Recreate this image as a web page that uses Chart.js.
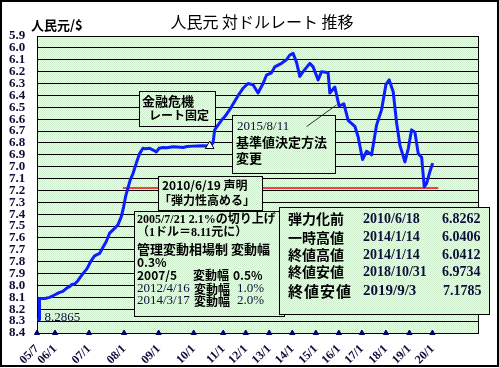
<!DOCTYPE html>
<html>
<head>
<meta charset="utf-8">
<script src="https://cdn.jsdelivr.net/npm/chart.js@4.4.1/dist/chart.umd.min.js"></script>
<style>
  html, body { margin: 0; padding: 0; background: #fff; }
  #wrap { width: 499px; height: 368px; }
</style>
</head>
<body>
<div id="wrap"><canvas id="rateChart" width="499" height="368"></canvas></div>
<script>
// x axis labels, placed by series sample number (category axis of the original)
const xTickLabels = ["05/7", "06/1", "07/1", "08/1", "09/1", "10/1", "11/1", "12/1",
    "13/1", "14/1", "15/1", "16/1", "17/1", "18/1", "19/1", "20/1"];
const xTickPos = [0, 18, 52, 87, 121.5, 156.5, 186, 208.5, 232, 255, 278.5, 301.5, 324.5, 348.5, 372, 395];
const xMax = 440.5;

const yTickVals = [5.9, 6.0, 6.1, 6.2, 6.3, 6.4, 6.5, 6.6, 6.7, 6.8, 6.9, 7.0, 7.1,
    7.2, 7.3, 7.4, 7.5, 7.6, 7.7, 7.8, 7.9, 8.0, 8.1, 8.2, 8.3, 8.4];

// CNY per USD
const rateIdx = [0, 2, 2.5, 8, 12.5, 17.5, 22, 25.8, 30, 32.5, 35, 37.5, 40.8, 45.8, 49.8, 54.2,
    57.5, 62.5, 65.8, 69.2, 72.5, 77.5, 80.8, 84.2, 86.5, 88.5, 90.8, 93.2, 95.8, 99.2, 102.5,
    105.8, 108, 112.5, 116, 119.2, 122, 125.8, 130, 135.8, 140, 145.8, 150, 155.8, 160, 165.8,
    172.5, 175.8, 177.5, 180.8, 184.2, 187.5, 192.5, 197.5, 202.5, 205.8, 210.8, 215.8, 220.8,
    225.8, 229.2, 234.2, 237.5, 244.2, 249.2, 252.5, 255.8, 259.2, 262.5, 265.8, 272.5, 275.8,
    280.8, 284.2, 290.8, 292.5, 297.5, 301.8, 306.5, 310.8, 317.5, 320.8, 325.2, 329.2, 334.2,
    339.2, 344.2, 348.5, 351.8, 355.8, 359.2, 362.5, 367.5, 370.8, 374.2, 377.5, 380.8, 384.2,
    386.8, 389.2, 392.5, 395.2];
const rateVal = [8.2865, 8.2865, 8.11, 8.11, 8.10, 8.08, 8.06, 8.05, 8.02, 8.01, 7.99, 7.99, 7.96,
    7.90, 7.86, 7.79, 7.75, 7.73, 7.68, 7.63, 7.56, 7.52, 7.49, 7.42, 7.34, 7.25, 7.18, 7.11,
    7.06, 6.97, 6.89, 6.845, 6.85, 6.845, 6.86, 6.875, 6.845, 6.838, 6.84, 6.833, 6.835, 6.838,
    6.83, 6.827, 6.825, 6.824, 6.826, 6.80, 6.69, 6.65, 6.61, 6.58, 6.52, 6.45, 6.38, 6.34,
    6.30, 6.31, 6.38, 6.30, 6.23, 6.21, 6.16, 6.13, 6.10, 6.06, 6.046, 6.12, 6.24, 6.20, 6.13,
    6.16, 6.27, 6.20, 6.21, 6.38, 6.33, 6.49, 6.47, 6.61, 6.66, 6.75, 6.94, 6.87, 6.90, 6.65,
    6.52, 6.31, 6.27, 6.37, 6.63, 6.82, 6.96, 6.85, 6.69, 6.71, 6.89, 6.92, 7.17, 7.14, 7.04, 6.97];

// 2010/6/18 before the flexibility statement
const flexIdx = [172.5];
const flexVal = [6.8262];

// red reference line
const redIdx = [85.8, 400.8];
const redVal = [7.18, 7.18];

// leader line of the 2015/8/11 note
const noteIdx = [269.2, 299.2];
const noteVal = [6.663, 6.48];

const GOTHIC = "'Noto Sans CJK JP', sans-serif";
const SERIF = "'Liberation Serif', 'Noto Sans CJK JP', serif";
const NAVY = "#0d0d3a";

function toXY(xs, ys) {
    return xs.map((x, i) => ({ x: x, y: ys[i] }));
}

function makePattern(ctx) {
    const c = document.createElement("canvas");
    c.width = 2; c.height = 2;
    const g = c.getContext("2d");
    g.fillStyle = "#f1fbee";
    g.fillRect(0, 0, 2, 2);
    g.fillStyle = "#cdeccb";
    g.fillRect(0, 0, 1, 1);
    g.fillRect(1, 1, 1, 1);
    return ctx.createPattern(c, "repeat");
}

const canvas = document.getElementById("rateChart");
const pattern = makePattern(canvas.getContext("2d"));

function txt(ctx, s, x, y, font, color) {
    ctx.font = font;
    ctx.fillStyle = color || "#000";
    ctx.textAlign = "left";
    ctx.textBaseline = "middle";
    ctx.fillText(s, x, y);
}

function box(ctx, x, y, w, h) {
    ctx.fillStyle = pattern;
    ctx.fillRect(x, y, w, h);
    ctx.strokeStyle = "#000";
    ctx.lineWidth = 1;
    ctx.strokeRect(x + 0.5, y + 0.5, w, h);
}

const decor = {
    id: "decor",
    beforeDraw(chart) {
        const { ctx, chartArea: a } = chart;
        ctx.save();
        ctx.fillStyle = "#fff";
        ctx.fillRect(0, 0, chart.width, chart.height);
        ctx.fillStyle = pattern;
        ctx.fillRect(a.left, a.top, a.right - a.left, a.bottom - a.top);
        ctx.restore();
    },
    beforeDatasetsDraw(chart) {
        const { ctx, chartArea: a } = chart;
        ctx.save();
        ctx.strokeStyle = "#000";
        ctx.lineWidth = 1;
        ctx.strokeRect(Math.round(a.left) + 0.5, Math.round(a.top) + 0.5,
            Math.round(a.right - a.left), Math.round(a.bottom - a.top));
        ctx.restore();
    },
    afterDatasetsDraw(chart) {
        const ctx = chart.ctx;
        const sx = chart.scales.x, sy = chart.scales.y;
        ctx.save();

        // starting rate
        txt(ctx, rateVal[0].toFixed(4), sx.getPixelForValue(rateIdx[2]) + 5,
            sy.getPixelForValue(rateVal[0]) - 2, "13px " + SERIF, NAVY);

        // 金融危機
        box(ctx, 139, 91, 76, 35);
        txt(ctx, "金融危機", 142, 101, "bold 13px " + GOTHIC);
        txt(ctx, "レート固定", 149, 115, "bold 12px " + GOTHIC);

        // 2015/8/11
        box(ctx, 232, 115, 103, 58);
        txt(ctx, "2015/8/11", 237, 127, "13px " + SERIF, NAVY);
        txt(ctx, "基準値決定方法", 236, 142, "bold 13px " + GOTHIC);
        txt(ctx, "変更", 236, 158, "bold 13px " + GOTHIC);

        // 2010/6/19
        box(ctx, 158, 176, 104, 34);
        txt(ctx, "2010/6/19 声明", 162, 185, "bold 12px " + GOTHIC);
        txt(ctx, "「弾力性高める」", 159, 200, "bold 12px " + GOTHIC);

        // 変動幅
        box(ctx, 134, 211, 150, 105);
        txt(ctx, "2005/7/21 2.1%の切り上げ", 137, 220, "bold 12px " + SERIF);
        txt(ctx, "（1ドル＝8.11元に）", 137, 233, "bold 12px " + SERIF);
        txt(ctx, "管理変動相場制 変動幅", 137, 249, "bold 13px " + GOTHIC);
        txt(ctx, "0.3%", 137, 262, "bold 12px " + GOTHIC);
        txt(ctx, "2007/5", 137, 275, "bold 12px " + GOTHIC);
        txt(ctx, "変動幅", 193, 275, "bold 12px " + GOTHIC);
        txt(ctx, "0.5%", 233, 275, "bold 12px " + GOTHIC);
        txt(ctx, "2012/4/16", 137, 289, "13px " + SERIF, NAVY);
        txt(ctx, "変動幅", 194, 289, "bold 12px " + GOTHIC);
        txt(ctx, "1.0%", 237, 289, "13px " + SERIF, NAVY);
        txt(ctx, "2014/3/17", 137, 301, "13px " + SERIF, NAVY);
        txt(ctx, "変動幅", 194, 301, "bold 12px " + GOTHIC);
        txt(ctx, "2.0%", 237, 301, "13px " + SERIF, NAVY);

        // summary
        box(ctx, 279, 207, 210, 107);
        const rows = [
            ["弾力化前", "2010/6/18", "6.8262", 219],
            ["一時高値", "2014/1/14", "6.0406", 237.5],
            ["終値高値", "2014/1/14", "6.0412", 255],
            ["終値安値", "2018/10/31", "6.9734", 272]
        ];
        rows.forEach(r => {
            txt(ctx, r[0], 288, r[3], "bold 14px " + GOTHIC);
            txt(ctx, r[1], 363, r[3], "bold 14px " + SERIF, NAVY);
            txt(ctx, r[2], 442, r[3], "bold 14px " + SERIF, NAVY);
        });
        Array.from("終値安値").forEach((ch, i) => {
            txt(ctx, ch, 288 + i * 16, 291, "bold 15px " + GOTHIC);
        });
        txt(ctx, "2019/9/3", 363, 291, "bold 15px " + SERIF, NAVY);
        txt(ctx, "7.1785", 443, 291, "bold 14px " + SERIF, NAVY);

        // leader line
        ctx.strokeStyle = "#333";
        ctx.lineWidth = 1;
        ctx.beginPath();
        ctx.moveTo(sx.getPixelForValue(noteIdx[0]), sy.getPixelForValue(noteVal[0]));
        ctx.lineTo(sx.getPixelForValue(noteIdx[1]), sy.getPixelForValue(noteVal[1]));
        ctx.stroke();
        ctx.restore();
    },
    afterDraw(chart) {
        const ctx = chart.ctx;
        ctx.save();
        ctx.font = "16px " + GOTHIC;
        ctx.fillStyle = "#000";
        ctx.textAlign = "center";
        ctx.textBaseline = "middle";
        ctx.fillText("人民元 対ドルレート 推移", 262, 22);
        txt(ctx, "人民元/$", 31, 25, "bold 13px " + GOTHIC);
        ctx.strokeStyle = "#000";
        ctx.lineWidth = 2;
        ctx.strokeRect(1, 1, 497, 365);
        ctx.restore();
    }
};

new Chart(canvas, {
    type: "scatter",
    data: {
        datasets: [
            {
                data: toXY(flexIdx, flexVal),
                pointStyle: "triangle",
                pointRadius: 5,
                pointBackgroundColor: "#fff",
                pointBorderColor: "#000",
                pointBorderWidth: 1
            },
            {
                data: toXY(rateIdx, rateVal),
                showLine: true,
                borderColor: "#0a1eff",
                borderWidth: 3,
                borderJoinStyle: "round",
                pointRadius: 0,
                tension: 0
            },
            {
                data: toXY(redIdx, redVal),
                showLine: true,
                borderColor: "#ff0000",
                borderWidth: 1.5,
                pointRadius: 0
            },
            {
                data: xTickPos.map(v => ({ x: v, y: yTickVals[yTickVals.length - 1] })),
                pointStyle: "triangle",
                pointRadius: 3,
                pointBackgroundColor: "#00006a",
                pointBorderColor: "#00006a",
                clip: false
            }
        ]
    },
    options: {
        responsive: false,
        animation: false,
        events: [],
        layout: { padding: { left: 9, right: 21, top: 36, bottom: 0 } },
        plugins: {
            legend: { display: false },
            tooltip: { enabled: false },
            title: { display: false }
        },
        scales: {
            x: {
                type: "linear",
                min: 0,
                max: xMax,
                grid: { display: false, drawTicks: false },
                border: { display: false },
                afterBuildTicks: s => { s.ticks = xTickPos.map(v => ({ value: v })); },
                afterFit: s => { s.height = 35; },
                ticks: {
                    autoSkip: false,
                    minRotation: 45,
                    maxRotation: 45,
                    padding: 9,
                    color: NAVY,
                    font: { family: SERIF, size: 12, weight: "bold" },
                    callback: (v, i) => xTickLabels[i]
                }
            },
            y: {
                type: "linear",
                min: yTickVals[0],
                max: yTickVals[yTickVals.length - 1],
                reverse: true,
                afterBuildTicks: s => { s.ticks = yTickVals.map(v => ({ value: v })); },
                afterFit: s => { s.width = 28; },
                grid: { color: "#000", lineWidth: 1, drawTicks: false },
                border: { color: "#000" },
                ticks: {
                    autoSkip: false,
                    crossAlign: "far",
                    padding: 0,
                    color: NAVY,
                    font: { family: SERIF, size: 13, weight: "bold" },
                    callback: v => Number(v).toFixed(1)
                }
            }
        }
    },
    plugins: [decor]
});
</script>
</body>
</html>
